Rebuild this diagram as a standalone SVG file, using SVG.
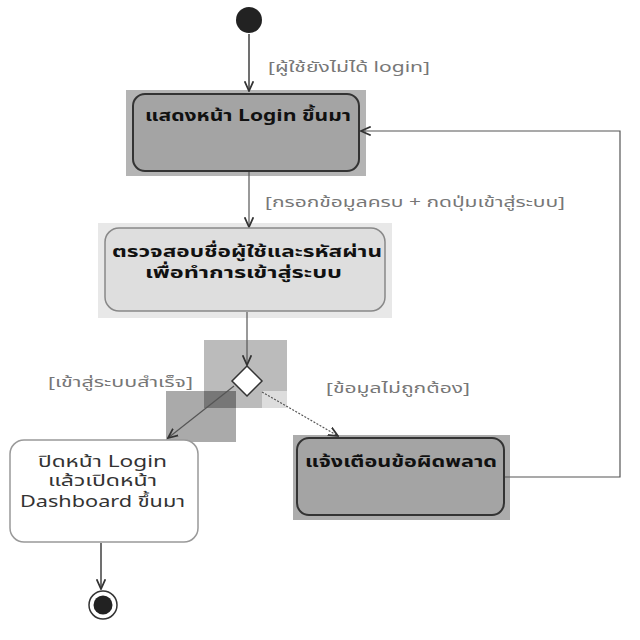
<svg xmlns="http://www.w3.org/2000/svg" width="640" height="640" viewBox="0 0 640 640">
<style>
  text { font-family: "Noto Sans Thai", "Noto Sans", "DejaVu Sans", sans-serif; }
  .lbl { font-size: 14px; fill: #777; }
  .bold { font-size: 16px; font-weight: bold; fill: #111; }
  .norm { font-size: 16px; fill: #333; }
  .dark { fill: #a4a4a4; stroke: #333; stroke-width: 2; }
  .light { fill: #dedede; stroke: #888; stroke-width: 1.5; }
  .white { fill: #fff; stroke: #999; stroke-width: 1.5; }
  .edge { fill: none; stroke: #555; stroke-width: 1.2; }
</style>
<defs>
  <marker id="arr" viewBox="0 0 10 10" refX="9" refY="5" markerWidth="9" markerHeight="9" orient="auto-start-reverse">
    <path d="M0,1 L9,5 L0,9" fill="none" stroke="#333" stroke-width="1.6"/>
  </marker>
</defs>
<rect width="640" height="640" fill="#fff"/>

<g id="backdrops">
  <rect x="126" y="90" width="240" height="86" fill="#b4b4b4"/>
  <rect x="98" y="223" width="294" height="95" fill="#e8e8e8"/>
  <rect x="293" y="435" width="217" height="85" fill="#acacac"/>
  <rect x="204" y="340" width="83" height="51" fill="#bbb"/>
  <rect x="166" y="391" width="70" height="51" fill="#aaa"/>
  <rect x="204" y="391" width="32" height="17" fill="#777"/>
  <rect x="236" y="391" width="26" height="17" fill="#bbb"/>
  <rect x="262" y="391" width="25" height="17" fill="#ddd"/>
</g>

<g id="connectors">
  <line class="edge" x1="249" y1="34" x2="249" y2="91" stroke-width="4" stroke="#aaa"/>
  <line class="edge" x1="249" y1="34" x2="249" y2="91" marker-end="url(#arr)"/>
  <line class="edge" x1="249" y1="172" x2="249" y2="227" stroke="#aaa" marker-end="url(#arr)"/>
  <line class="edge" x1="247" y1="312" x2="247" y2="365" marker-end="url(#arr)"/>
  <line class="edge" x1="234" y1="386" x2="168" y2="438" stroke="#222" stroke-width="1.6" marker-end="url(#arr)"/>
  <line class="edge" x1="262" y1="392" x2="338" y2="436" stroke="#666" stroke-dasharray="2,1.5" marker-end="url(#arr)"/>
  <polyline class="edge" points="505,477 620,477 620,131 361,131" stroke="#777" marker-end="url(#arr)"/>
  <line class="edge" x1="101" y1="543" x2="101" y2="589" stroke-width="4" stroke="#aaa"/>
  <line class="edge" x1="101" y1="543" x2="101" y2="589" marker-end="url(#arr)"/>
  <text class="lbl" x="268" y="72" textLength="162" lengthAdjust="spacingAndGlyphs">[ผู้ใช้ยังไม่ได้ login]</text>
  <text class="lbl" x="265" y="207" textLength="300" lengthAdjust="spacingAndGlyphs">[กรอกข้อมูลครบ + กดปุ่มเข้าสู่ระบบ]</text>
  <text class="lbl" x="48" y="387" textLength="145" lengthAdjust="spacingAndGlyphs">[เข้าสู่ระบบสำเร็จ]</text>
  <text class="lbl" x="326" y="393" textLength="144" lengthAdjust="spacingAndGlyphs">[ข้อมูลไม่ถูกต้อง]</text>
</g>

<g id="start">
  <circle cx="249" cy="20" r="13" fill="#222"/>
</g>

<g id="show-login">
  <rect class="dark" x="133" y="94" width="226" height="77" rx="12"/>
  <text class="bold" x="145" y="121" textLength="206" lengthAdjust="spacingAndGlyphs">แสดงหน้า Login ขึ้นมา</text>
</g>

<g id="verify">
  <rect class="light" x="105" y="228" width="280" height="83" rx="14"/>
  <text class="bold" x="112" y="257" textLength="270" lengthAdjust="spacingAndGlyphs">ตรวจสอบชื่อผู้ใช้และรหัสผ่าน</text>
  <text class="bold" x="145" y="278" textLength="197" lengthAdjust="spacingAndGlyphs">เพื่อทำการเข้าสู่ระบบ</text>
</g>

<g id="decision">
  <polygon points="247,366 262,381 247,396 232,381" fill="#fff" stroke="#333" stroke-width="1.5"/>
</g>

<g id="dashboard">
  <rect class="white" x="10" y="440" width="188" height="102" rx="14"/>
  <text class="norm" x="38" y="467" textLength="129" lengthAdjust="spacingAndGlyphs">ปิดหน้า Login</text>
  <text class="norm" x="48" y="486" textLength="109" lengthAdjust="spacingAndGlyphs">แล้วเปิดหน้า</text>
  <text class="norm" x="20" y="507" textLength="165" lengthAdjust="spacingAndGlyphs">Dashboard ขึ้นมา</text>
</g>

<g id="error">
  <rect class="dark" x="297" y="438" width="207" height="77" rx="12"/>
  <text class="bold" x="305" y="467" textLength="192" lengthAdjust="spacingAndGlyphs">แจ้งเตือนข้อผิดพลาด</text>
</g>

<g id="end">
  <circle cx="103" cy="605" r="14" fill="#fff" stroke="#333" stroke-width="1.5"/>
  <circle cx="103" cy="605" r="9.5" fill="#222"/>
</g>
</svg>
